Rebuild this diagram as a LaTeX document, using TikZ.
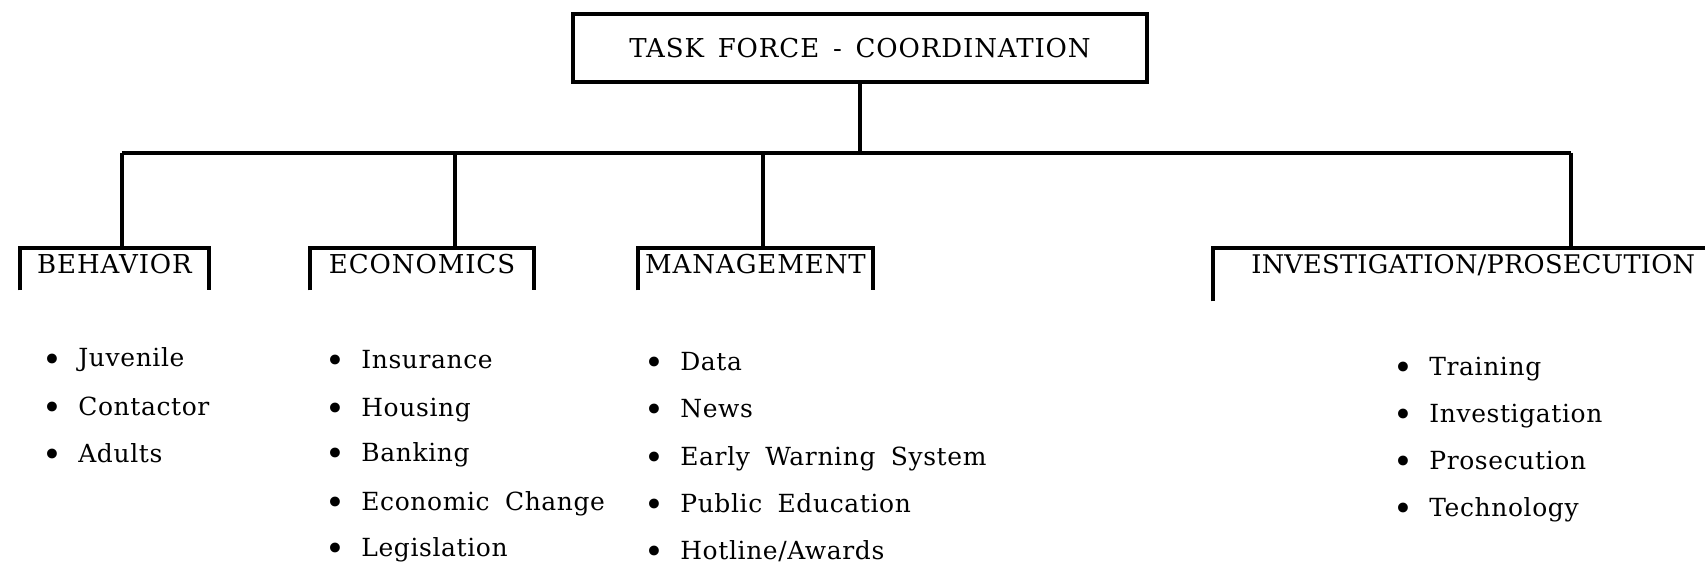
\documentclass[tikz,border=0pt]{standalone}
\usepackage{fontspec}
\setmainfont{DejaVu Serif}[LetterSpace=2.5,WordSpace=1.8]
\newfontfamily\capsfont{DejaVu Serif}[LetterSpace=3.5,WordSpace=1.5]

\newcommand{\bul}{\makebox[0pt]{\raisebox{-.09cm}{\scalebox{1.35}{\textbullet}}}\hspace{.52cm}}

\begin{document}
\begin{tikzpicture}
      % Define styles for nodes
      \tikzstyle{head} = [draw, rectangle, line width=2.2pt, inner sep=0,
      minimum width=11.48cm, minimum height=1.36cm,
      font=\capsfont\fontsize{14.8}{17}\selectfont]
      \tikzstyle{branch} = [rectangle, inner ysep=0, minimum height=.84cm,
      text height=.5cm, text depth=.34cm,
      font=\capsfont\fontsize{14.8}{17}\selectfont]
      \tikzstyle{entry} = [anchor=base west, inner sep=0,
      font=\fontsize{14.2}{17}\selectfont]
      \tikzstyle{wire} = [line width=2.2pt]

      \useasboundingbox (0,0) rectangle (34.1,-11.38);

      % Top box
      \node[head] (task) at (17.2,-.96) {TASK FORCE - COORDINATION};

      % Points on the bus line
      \coordinate (j1) at (2.44,-3.06);
      \coordinate (j2) at (9.1,-3.06);
      \coordinate (j3) at (15.26,-3.06);
      \coordinate (j4) at (31.42,-3.06);
      \coordinate (edge) at (34.1,0);

      % Define the four branches
      \node[branch, minimum width=3.78cm] (behavior) at (2.29,-5.38) {BEHAVIOR};
      \node[branch, minimum width=4.48cm] (economics) at (8.44,-5.38) {ECONOMICS};
      \node[branch, minimum width=4.7cm] (management) at (15.11,-5.38) {MANAGEMENT};
      \node[branch, anchor=west, inner xsep=.76cm,
      font=\capsfont\addfontfeatures{LetterSpace=1}\fontsize{14.6}{17}\selectfont]
      (investigation) at (24.26,-5.38) {INVESTIGATION/PROSECUTION};

      % Connections
      \draw[wire] (task.south) -- (task.south |- j1);
      \draw[wire] (j1) -- (j4);
      \draw[wire] (j1) -- (j1 |- behavior.north);
      \draw[wire] (j2) -- (j2 |- economics.north);
      \draw[wire] (j3) -- (j3 |- management.north);
      \draw[wire] (j4) -- (j4 |- investigation.north);

      % Open brackets round the branch names
      \draw[wire] (behavior.south west) -- (behavior.north west)
      -- (behavior.north east) -- (behavior.south east);
      \draw[wire] (economics.south west) -- (economics.north west)
      -- (economics.north east) -- (economics.south east);
      \draw[wire] (management.south west) -- (management.north west)
      -- (management.north east) -- (management.south east);
      \draw[wire] ([yshift=-.22cm]investigation.south west) -- (investigation.north west)
      -- (investigation.north west -| edge);

      % Items under BEHAVIOR
      \node[entry] (juvenile) at (1.04,-7.34) {\bul Juvenile};
      \node[entry] (contactor) at (1.04,-8.3) {\bul Contactor};
      \node[entry] (adults) at (1.04,-9.24) {\bul Adults};

      % Items under ECONOMICS
      \node[entry] (insurance) at (6.7,-7.36) {\bul Insurance};
      \node[entry] (housing) at (6.7,-8.32) {\bul Housing};
      \node[entry] (banking) at (6.7,-9.22) {\bul Banking};
      \node[entry] (econchange) at (6.7,-10.2) {\bul Economic Change};
      \node[entry] (legislation) at (6.7,-11.12) {\bul Legislation};

      % Items under MANAGEMENT
      \node[entry] (data) at (13.08,-7.4) {\bul Data};
      \node[entry] (news) at (13.08,-8.34) {\bul News};
      \node[entry] (warning) at (13.08,-9.3) {\bul Early Warning System};
      \node[entry] (education) at (13.08,-10.24) {\bul Public Education};
      \node[entry] (hotline) at (13.08,-11.18) {\bul Hotline/Awards};

      % Items under INVESTIGATION/PROSECUTION
      \node[entry] (training) at (28.06,-7.5) {\bul Training};
      \node[entry] (investigate) at (28.06,-8.44) {\bul Investigation};
      \node[entry] (prosecution) at (28.06,-9.38) {\bul Prosecution};
      \node[entry] (technology) at (28.06,-10.32) {\bul Technology};

    \end{tikzpicture}
\end{document}
